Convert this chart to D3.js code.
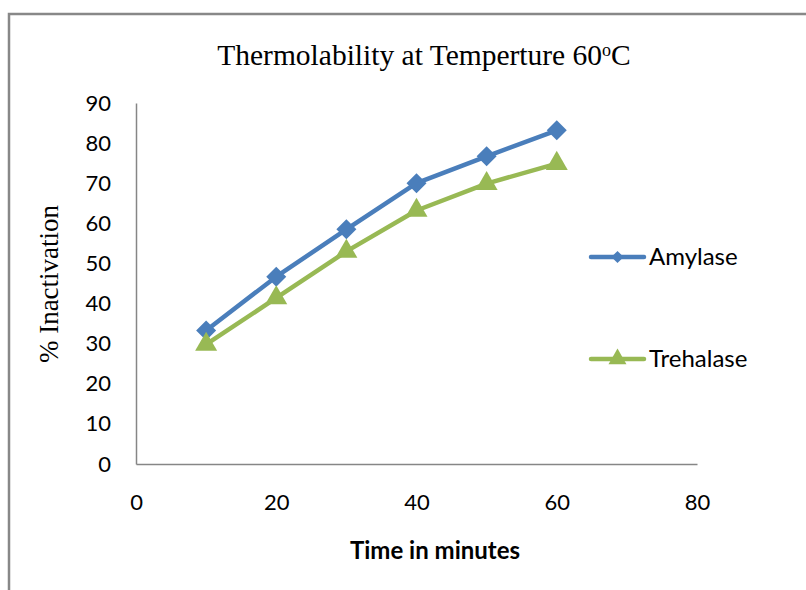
<!DOCTYPE html>
<html>
<head>
<meta charset="utf-8">
<script src="https://cdn.jsdelivr.net/npm/d3@7"></script>
<style>
  body { margin: 0; background: #fff; }
  .tick text { font-family: Lato, "Open Sans", sans-serif; font-size: 22px; fill: #000; }
</style>
</head>
<body>
<div id="chart"></div>
<script>
// data
var times = [10, 20, 30, 40, 50, 60];
var amylase = [33.3, 46.7, 58.5, 70, 76.7, 83.2];
var trehalase = [29.8, 41.4, 53, 63.2, 69.9, 74.9];
var seriesNames = ["Amylase", "Trehalase"];
var xTicks = [0, 20, 40, 60, 80];
var yTicks = [0, 10, 20, 30, 40, 50, 60, 70, 80, 90];

var width = 806;
var height = 590;
var blue = "#4A7EBB", green = "#98B954", axisGray = "#868686";

var svg = d3.select("#chart")
    .append("svg")
    .attr("width", width)
    .attr("height", height);

// outer chart border (runs off the right and bottom edge)
svg.append("rect")
    .attr("x", 9)
    .attr("y", 14)
    .attr("width", 900)
    .attr("height", 700)
    .attr("fill", "none")
    .attr("stroke", "#888")
    .attr("stroke-width", 2.5);

var x = d3.scaleLinear().domain([0, 80]).range([136, 697]);
var y = d3.scaleLinear().domain([0, 90]).range([464, 103]);

// title
var title = svg.append("text")
    .attr("x", 424)
    .attr("y", 65)
    .attr("text-anchor", "middle")
    .style("font-family", "'Liberation Serif', 'Times New Roman', serif")
    .style("font-size", "29.5px")
    .text("Thermolability at Temperture 60");
title.append("tspan")
    .attr("dy", -9)
    .style("font-size", "18px")
    .text("o");
title.append("tspan")
    .attr("dy", 9)
    .text("C");

// axes
var yAxis = d3.axisLeft(y).tickValues(yTicks).tickSize(0).tickPadding(25);
var xAxis = d3.axisBottom(x).tickValues(xTicks).tickSize(0).tickPadding(30);

svg.append("g")
    .attr("transform", "translate(" + x(0) + ",0)")
    .call(yAxis)
    .call(function(g){ g.select(".domain").attr("stroke", axisGray).attr("stroke-width", 1.5); });

svg.append("g")
    .attr("transform", "translate(0," + y(0) + ")")
    .call(xAxis)
    .call(function(g){ g.select(".domain").attr("stroke", axisGray).attr("stroke-width", 1.5); });

// axis titles
svg.append("text")
    .attr("x", 435)
    .attr("y", 559)
    .attr("text-anchor", "middle")
    .style("font-family", "Lato, 'Open Sans', sans-serif")
    .style("font-weight", "bold")
    .style("font-size", "24px")
    .text("Time in minutes");

svg.append("text")
    .attr("transform", "translate(58,284) rotate(-90)")
    .attr("text-anchor", "middle")
    .style("font-family", "'Liberation Serif', 'Times New Roman', serif")
    .style("font-size", "27px")
    .text("% Inactivation");

// series
var series = [
    {name: seriesNames[0], values: amylase, color: blue, symbol: d3.symbolSquare, rot: 45, size: 200, legendSize: 75},
    {name: seriesNames[1], values: trehalase, color: green, symbol: d3.symbolTriangle, rot: 0, size: 210, legendSize: 140}
];

var line = d3.line()
    .x(function(d){ return x(d[0]); })
    .y(function(d){ return y(d[1]); });

series.forEach(function(s){
    var pts = times.map(function(t, i){ return [t, s.values[i]]; });
    svg.append("path")
        .datum(pts)
        .attr("d", line)
        .attr("fill", "none")
        .attr("stroke", s.color)
        .attr("stroke-width", 4.5)
        .attr("stroke-linejoin", "round");
    svg.selectAll(null)
        .data(pts)
        .enter()
        .append("path")
        .attr("transform", function(d){ return "translate(" + x(d[0]) + "," + y(d[1]) + ") rotate(" + s.rot + ")"; })
        .attr("d", d3.symbol().type(s.symbol).size(s.size))
        .attr("fill", s.color);
});

// legend
var legendY = [257, 359];
series.forEach(function(s, i){
    var g = svg.append("g").attr("transform", "translate(0," + legendY[i] + ")");
    g.append("line")
        .attr("x1", 591).attr("x2", 644)
        .attr("stroke", s.color)
        .attr("stroke-width", 4.5)
        .attr("stroke-linecap", "round");
    g.append("path")
        .attr("transform", "translate(617.5,0) rotate(" + s.rot + ")")
        .attr("d", d3.symbol().type(s.symbol).size(s.legendSize))
        .attr("fill", s.color);
    g.append("text")
        .attr("x", 649)
        .attr("y", 8)
        .style("font-family", "Lato, 'Open Sans', sans-serif")
        .style("font-size", "24px")
        .text(s.name);
});
</script>
</body>
</html>
